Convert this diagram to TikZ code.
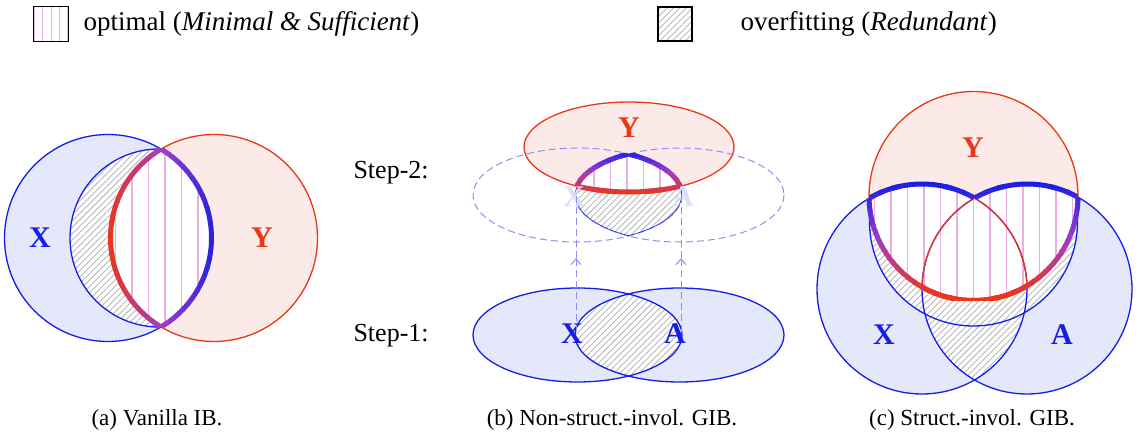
\documentclass[tikz,border=0pt]{standalone}
\usepackage{fontspec}
\setmainfont{Liberation Serif}
\usetikzlibrary{patterns.meta,arrows.meta}
\definecolor{bl}{RGB}{20,30,230}
\definecolor{rd}{RGB}{235,55,25}
\definecolor{pu}{RGB}{160,60,200}
\definecolor{bfill}{RGB}{228,232,250}
\definecolor{rfill}{RGB}{252,234,232}
\definecolor{gridc}{RGB}{235,175,225}
\tikzset{
  hatch/.style={pattern={Lines[angle=45,distance=4.5pt,line width=0.9pt]},pattern color=gray!55},
  gridlines/.style={gridc,line width=1.4pt},
  thin blue/.style={bl,line width=1.3pt},
  thin red/.style={rd,line width=1.3pt},
  lbl/.style={font=\fontsize{30}{32}\selectfont\bfseries},
  legtext/.style={font=\fontsize{27}{30}\selectfont,anchor=west},
  captext/.style={font=\fontsize{23}{26}\selectfont},
  steplbl/.style={font=\fontsize{26}{28}\selectfont,anchor=west},
  thick stroke/.style={line width=5pt},
}
\newcommand{\mkgc}[1]{%
  \pgfmathtruncatemacro\pa{max(0,min(100,2*#1))}%
  \pgfmathtruncatemacro\pc{100-max(0,2*#1-100)}%
  \colorlet{gc}{pu!\pa!rd!\pc!bl}}
\newcommand{\strokeA}{%
  \begin{scope}\clip (108,238) circle[radius=103.5];\draw[thick stroke,gc] (214,238) circle[radius=103.5];\end{scope}
  \begin{scope}\clip (214,238) circle[radius=103.5];\draw[thick stroke,gc] (108,238) circle[radius=103.5];\end{scope}}
\newcommand{\strokeB}{%
  \begin{scope}\clip (629,147) ellipse[x radius=105,y radius=45];\clip (679.5,195) ellipse[x radius=104.5,y radius=47];\draw[thick stroke,gc] (577.5,195) ellipse[x radius=104.5,y radius=47];\end{scope}
  \begin{scope}\clip (629,147) ellipse[x radius=105,y radius=45];\clip (577.5,195) ellipse[x radius=104.5,y radius=47];\draw[thick stroke,gc] (679.5,195) ellipse[x radius=104.5,y radius=47];\end{scope}
  \begin{scope}\clip (577.5,195) ellipse[x radius=104.5,y radius=47];\clip (679.5,195) ellipse[x radius=104.5,y radius=47];\draw[thick stroke,gc] (629,147) ellipse[x radius=105,y radius=45];\end{scope}}
\newcommand{\strokeC}{%
  \begin{scope}[even odd rule]\clip (973.5,196) circle[radius=104.5];\clip (700,0) rectangle (1140,446) (1027,289) circle[radius=105];\draw[thick stroke,gc] (922,289) circle[radius=105];\end{scope}
  \begin{scope}[even odd rule]\clip (973.5,196) circle[radius=104.5];\clip (700,0) rectangle (1140,446) (922,289) circle[radius=105];\draw[thick stroke,gc] (1027,289) circle[radius=105];\end{scope}
  \begin{scope}\clip (922,289) circle[radius=105];\draw[thick stroke,gc] (973.5,196) circle[radius=104.5];\end{scope}
  \begin{scope}\clip (1027,289) circle[radius=105];\draw[thick stroke,gc] (973.5,196) circle[radius=104.5];\end{scope}}
\begin{document}
\begin{tikzpicture}[x=1pt,y=-1pt]
\useasboundingbox (0,0) rectangle (1140,446);
% ---------- legend
\node[minimum width=34pt,minimum height=34pt,inner sep=0pt] (leg1) at (51,24) {};
\begin{scope}\clip (34,7) rectangle (68,41);\draw[gridlines,line width=1pt,step=8.5] (34,7) grid (68,41);\end{scope}
\draw[black,line width=1.2pt] (leg1.south west) rectangle (leg1.north east);
\node[legtext] (t1) at (80,24) {optimal (\textit{Minimal \& Sufficient})};
\node[draw=black,line width=1.2pt,hatch,minimum width=34pt,minimum height=34pt,inner sep=0pt] (leg2) at (675,24) {};
\node[legtext] (t2) at (737,24) {overfitting (\textit{Redundant})};
% ---------- (a)
\fill[bfill] (108,238) circle[radius=103.5];
\fill[rfill] (214,238) circle[radius=103.5];
\begin{scope}\clip (108,238) circle[radius=103.5];\clip (159,238) circle[radius=89];
  \fill[white] (0,100) rectangle (330,350);\fill[hatch] (0,100) rectangle (330,350);\end{scope}
\begin{scope}\clip (108,238) circle[radius=103.5];\clip (214,238) circle[radius=103.5];
  \fill[white] (0,100) rectangle (330,350);\draw[gridlines,step=16.5] (0,99) grid (330,350);\end{scope}
\draw[thin blue] (108,238) circle[radius=103.5];
\draw[thin red] (214,238) circle[radius=103.5];
\begin{scope}\clip (0,100) rectangle (159,350);\draw[thin blue] (159,238) circle[radius=89];\end{scope}
\foreach \i in {0,...,23}{%
  \pgfmathsetmacro\xa{104+\i*5}\pgfmathsetmacro\tt{\i/23*100}\mkgc{\tt}%
  \begin{scope}\clip (\xa,100) rectangle (\xa+5.6,350);\strokeA\end{scope}}
\node[lbl,text=bl] (ax) at (40,238) {X};
\node[lbl,text=rd] (ay) at (262,238) {Y};
% ---------- (b)
\fill[rfill] (629,147) ellipse[x radius=105,y radius=45];
\draw[thin red] (629,147) ellipse[x radius=105,y radius=45];
\draw[bl!50,line width=1pt,dash pattern=on 7pt off 4pt] (577.5,195) ellipse[x radius=104.5,y radius=47];
\draw[bl!50,line width=1pt,dash pattern=on 7pt off 4pt] (679.5,195) ellipse[x radius=104.5,y radius=47];
\begin{scope}\clip (577.5,195) ellipse[x radius=104.5,y radius=47];\clip (679.5,195) ellipse[x radius=104.5,y radius=47];
  \fill[white] (500,140) rectangle (760,250);\fill[hatch] (500,140) rectangle (760,250);
  \draw[thin blue] (577.5,195) ellipse[x radius=104.5,y radius=47];
  \draw[thin blue] (679.5,195) ellipse[x radius=104.5,y radius=47];
  \clip (629,147) ellipse[x radius=105,y radius=45];
  \fill[white] (500,140) rectangle (760,250);\draw[gridlines,step=16.5] (500,132) grid (760,250);\end{scope}
\foreach \i in {0,...,9}{%
  \pgfmathsetmacro\ya{148+\i*5}\pgfmathsetmacro\tt{100-\i/9*100}\mkgc{\tt}%
  \begin{scope}\clip (500,\ya) rectangle (760,\ya+5.6);\strokeB\end{scope}}
\node[lbl,text=rd] (by) at (629,128) {Y};
\node[lbl,text=bl!15] (bx2) at (574,197) {X};
\node[lbl,text=bl!15] (ba2) at (683,197) {A};
\fill[bfill] (577.5,335) ellipse[x radius=104.5,y radius=47];
\fill[bfill] (679.5,335) ellipse[x radius=104.5,y radius=47];
\begin{scope}\clip (577.5,335) ellipse[x radius=104.5,y radius=47];\clip (679.5,335) ellipse[x radius=104.5,y radius=47];
  \fill[white] (500,280) rectangle (760,390);\fill[hatch] (500,280) rectangle (760,390);\end{scope}
\draw[thin blue] (577.5,335) ellipse[x radius=104.5,y radius=47];
\draw[thin blue] (679.5,335) ellipse[x radius=104.5,y radius=47];
\node[lbl,text=bl] (bx1) at (572,334) {X};
\node[lbl,text=bl] (ba1) at (675,334) {A};
\coordinate (l1) at (576,332); \coordinate (l1m) at (576,258); \coordinate (l1t) at (576,196);
\coordinate (r1) at (681,332); \coordinate (r1m) at (681,258); \coordinate (r1t) at (681,196);
\draw[bl!50,line width=1pt,dash pattern=on 7pt off 4pt,-{Straight Barb[length=6pt,width=10pt]}] (l1) -- (l1m);
\draw[bl!50,line width=1pt,dash pattern=on 7pt off 4pt] (l1m) -- (l1t);
\draw[bl!50,line width=1pt,dash pattern=on 7pt off 4pt,-{Straight Barb[length=6pt,width=10pt]}] (r1) -- (r1m);
\draw[bl!50,line width=1pt,dash pattern=on 7pt off 4pt] (r1m) -- (r1t);
\node[steplbl] (s2) at (350,173) {Step-2:};
\node[steplbl] (s1) at (350,336) {Step-1:};
% ---------- (c)
\fill[bfill] (922,289) circle[radius=105];
\fill[bfill] (1027,289) circle[radius=105];
\fill[rfill] (973.5,196) circle[radius=104.5];
\begin{scope}\clip (973.5,222) circle[radius=104];
  \fill[white] (922,289) circle[radius=105];\fill[hatch] (922,289) circle[radius=105];
  \fill[white] (1027,289) circle[radius=105];\fill[hatch] (1027,289) circle[radius=105];\end{scope}
\begin{scope}\clip (922,289) circle[radius=105];
  \fill[white] (1027,289) circle[radius=105];\fill[hatch] (1027,289) circle[radius=105];\end{scope}
\begin{scope}\clip (973.5,196) circle[radius=104.5];
  \fill[white] (922,289) circle[radius=105];\fill[white] (1027,289) circle[radius=105];
  \clip (800,90) rectangle (1140,400);
  \begin{scope}\clip (922,289) circle[radius=105];\draw[gridlines,step=16.5] (800,82) grid (1140,400);\end{scope}
  \begin{scope}\clip (1027,289) circle[radius=105];\draw[gridlines,step=16.5] (800,82) grid (1140,400);\end{scope}
\end{scope}
\draw[thin blue] (922,289) circle[radius=105];
\draw[thin blue] (1027,289) circle[radius=105];
\begin{scope}[even odd rule]\clip (700,0) rectangle (1140,446) (973.5,196) circle[radius=104.5];
  \draw[thin blue] (973.5,222) circle[radius=104];\end{scope}
\begin{scope}\clip (973.5,196) circle[radius=104.5];
  \draw[thin red] (922,289) circle[radius=105];\draw[thin red] (1027,289) circle[radius=105];\end{scope}
\draw[thin red] (973.5,196) circle[radius=104.5];
\foreach \i in {0,...,23}{%
  \pgfmathsetmacro\ya{180+\i*5}\pgfmathsetmacro\tt{100-\i/23*100}\mkgc{\tt}%
  \begin{scope}\clip (800,\ya) rectangle (1140,\ya+5.6);\strokeC\end{scope}}
\node[lbl,text=rd] (cy) at (973,148) {Y};
\node[lbl,text=bl] (cx) at (884,335) {X};
\node[lbl,text=bl] (ca) at (1062,335) {A};
% ---------- captions
\node[captext] (capa) at (157,420) {(a) Vanilla IB.};
\node[captext] (capb) at (612,420) {(b) Non-struct.-invol. GIB.};
\node[captext] (capc) at (972,420) {(c) Struct.-invol. GIB.};
\end{tikzpicture}
\end{document}
